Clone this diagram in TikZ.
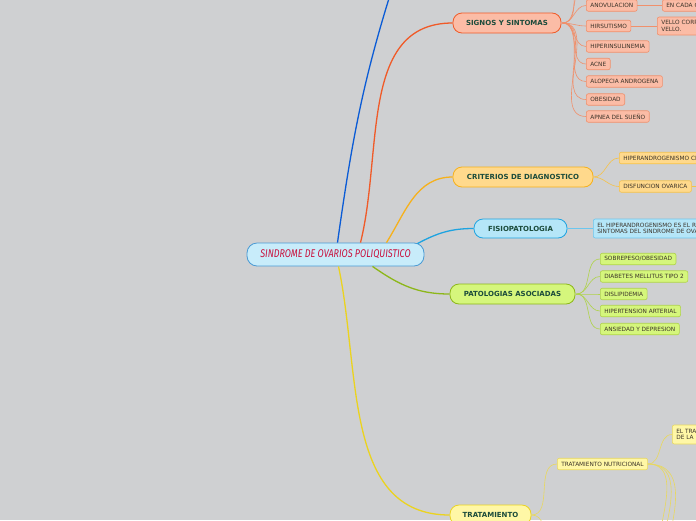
\documentclass[tikz,border=0pt]{standalone}
\usepackage{fontspec}
\setsansfont{DejaVu Sans}
\newfontfamily\titlefont[FakeStretch=0.8]{Fira Sans}
\usetikzlibrary{positioning}
\definecolor{bgrey}{HTML}{CFD0D2}
\definecolor{rootfill}{HTML}{C8ECFA}
\definecolor{rootline}{HTML}{4A9AD4}
\definecolor{rootred}{HTML}{C8103C}
\definecolor{labelgreen}{HTML}{1B4B3B}
\definecolor{subtext}{HTML}{3A3228}
\definecolor{topblue}{HTML}{0A5BD6}
\definecolor{sigline}{HTML}{F05A28}
\definecolor{sigfill}{HTML}{FBBCA6}
\definecolor{sigsub}{HTML}{F0906C}
\definecolor{criline}{HTML}{F6B11C}
\definecolor{crifill}{HTML}{FFD98C}
\definecolor{crisub}{HTML}{F5C24A}
\definecolor{fisline}{HTML}{1EA3E0}
\definecolor{fisfill}{HTML}{B5E6F8}
\definecolor{fissub}{HTML}{6CC6EE}
\definecolor{patline}{HTML}{8DB71A}
\definecolor{patfill}{HTML}{D5F67C}
\definecolor{patsub}{HTML}{AFD34A}
\definecolor{traline}{HTML}{EBD31F}
\definecolor{trafill}{HTML}{FFF7A6}
\definecolor{trasub}{HTML}{E8D860}

\begin{document}
\begin{tikzpicture}[x=1pt, y=1pt,
  link/.style={line width=1.3pt},
  sublink/.style={line width=0.6pt},
  rootbox/.style={draw=rootline, fill=rootfill, line width=0.8pt, rounded corners=10pt,
    minimum width=177pt, minimum height=23pt, text=rootred,
    font=\titlefont\itshape\fontsize{11.2}{12}\selectfont},
  mainbox/.style={line width=0.8pt, rounded corners=9pt, minimum height=20pt,
    text=labelgreen, font=\sffamily\bfseries\fontsize{7}{8}\selectfont},
  subbox/.style={line width=0.6pt, rounded corners=2pt, minimum height=11.5pt,
    inner xsep=4pt, inner ysep=1pt, anchor=west, text=subtext, align=left,
    font=\sffamily\fontsize{5.8}{6.6}\selectfont},
  sigbox/.style={subbox, draw=sigsub, fill=sigfill},
  cribox/.style={subbox, draw=crisub, fill=crifill},
  fisbox/.style={subbox, draw=fissub, fill=fisfill},
  patbox/.style={subbox, draw=patsub, fill=patfill},
  trabox/.style={subbox, draw=trasub, fill=trafill}]
  \useasboundingbox (0,0) rectangle (696,-520);
  \clip (0,0) rectangle (696,-520);
  \fill[bgrey] (0,0) rectangle (696,-520);

  % Central topic
  \node[rootbox] (root) at (335.5,-254.5) {SINDROME DE OVARIOS POLIQUISTICO};

  % Main topics
  \node[mainbox, draw=sigline, fill=sigfill, minimum width=108pt] (signos) at (507,-23) {SIGNOS Y SINTOMAS};
  \node[mainbox, draw=criline, fill=crifill, minimum width=140pt] (criterios) at (523,-177) {CRITERIOS DE DIAGNOSTICO};
  \node[mainbox, draw=fisline, fill=fisfill, minimum width=93pt, minimum height=19pt] (fisio) at (520.5,-228.5) {FISIOPATOLOGIA};
  \node[mainbox, draw=patline, fill=patfill, minimum width=125pt] (patologias) at (512.5,-294) {PATOLOGIAS ASOCIADAS};
  \node[mainbox, draw=traline, fill=trafill, minimum width=81pt] (tratamiento) at (490.5,-515) {TRATAMIENTO};
  \coordinate (topoff) at (398,30);

  % Branches from the centre
  \draw[link, topblue] ([xshift=2pt]root.north) to[out=82,in=252] (topoff);
  \draw[link, sigline] ([xshift=25pt]root.north) to[out=76,in=180] (signos.west);
  \draw[link, criline] ([xshift=51pt]root.north) to[out=58,in=180] (criterios.west);
  \draw[link, fisline] ([xshift=-7pt,yshift=-1pt]root.north east) to[out=28,in=180] (fisio.west);
  \draw[link, patline] ([xshift=37pt]root.south) to[out=-35,in=180] (patologias.west);
  \draw[link, traline] ([xshift=3pt]root.south) to[out=-78,in=180] (tratamiento.west);

  % Signos y sintomas
  \node[sigbox] (anov) at (586,-5.5) {ANOVULACION};
  \node[sigbox, text width=52pt] (ciclo) at (662,-5.5) {EN CADA C};
  \node[sigbox] (hirs) at (586,-26) {HIRSUTISMO};
  \node[sigbox, text width=52pt, minimum height=18pt] (vello) at (657,-26) {VELLO CORP\\VELLO.};
  \node[sigbox] (hiper) at (586,-46.5) {HIPERINSULINEMIA};
  \node[sigbox] (acne) at (586,-64) {ACNE};
  \node[sigbox] (alop) at (586,-81.5) {ALOPECIA ANDROGENA};
  \node[sigbox] (obes) at (586,-99.5) {OBESIDAD};
  \node[sigbox] (apnea) at (586,-116.5) {APNEA DEL SUEÑO};
  \coordinate (sigoffb) at (586,14);
  \coordinate (sigoffc) at (586,32);
  \foreach \k in {anov, hirs, hiper, acne, alop, obes, apnea, sigoffb, sigoffc}
    \draw[sublink, sigsub] ([xshift=1pt]signos.east) to[out=0,in=180] (\k.west);
  \draw[sublink, sigsub] (anov.east) -- (ciclo.west);
  \draw[sublink, sigsub] (hirs.east) -- (vello.west);

  % Criterios de diagnostico
  \node[cribox, text width=90pt] (clinico) at (619,-158) {HIPERANDROGENISMO CL};
  \node[cribox] (disf) at (619,-186.5) {DISFUNCION OVARICA};
  \coordinate (crioff) at (720,-186.5);
  \foreach \k in {clinico, disf}
    \draw[sublink, crisub] (criterios.east) to[out=0,in=180] (\k.west);
  \draw[sublink, crisub] (disf.east) -- (crioff);

  % Fisiopatologia
  \node[fisbox, text width=120pt, minimum height=19pt] (hiperandro) at (593,-228.5) {EL HIPERANDROGENISMO ES EL RE\\SINTOMAS DEL SINDROME DE OVA};
  \draw[sublink, fissub] (fisio.east) -- (hiperandro.west);

  % Patologias asociadas
  \node[patbox] (sobre) at (600,-259) {SOBREPESO/OBESIDAD};
  \node[patbox] (diab) at (600,-276.5) {DIABETES MELLITUS TIPO 2};
  \node[patbox] (disl) at (600,-294) {DISLIPIDEMIA};
  \node[patbox] (hta) at (600,-311) {HIPERTENSION ARTERIAL};
  \node[patbox] (ansi) at (600,-329) {ANSIEDAD Y DEPRESION};
  \foreach \k in {sobre, diab, disl, hta, ansi}
    \draw[sublink, patsub] ([xshift=1pt]patologias.east) to[out=0,in=180] (\k.west);

  % Tratamiento
  \node[trabox] (nutri) at (557,-464) {TRATAMIENTO NUTRICIONAL};
  \node[trabox, text width=40pt, minimum height=19pt] (eltra) at (672,-434.5) {EL TRA\\DE LA I};
  \coordinate (traoff) at (557,-575);
  \coordinate (nutoffa) at (672,-600);
  \coordinate (nutoffb) at (672,-640);
  \coordinate (nutoffc) at (672,-680);
  \foreach \k in {nutri, traoff}
    \draw[sublink, trasub] (tratamiento.east) to[out=0,in=180] (\k);
  \foreach \k in {eltra, nutoffa, nutoffb, nutoffc}
    \draw[sublink, trasub] (nutri.east) to[out=0,in=180] (\k);
\end{tikzpicture}
\end{document}
